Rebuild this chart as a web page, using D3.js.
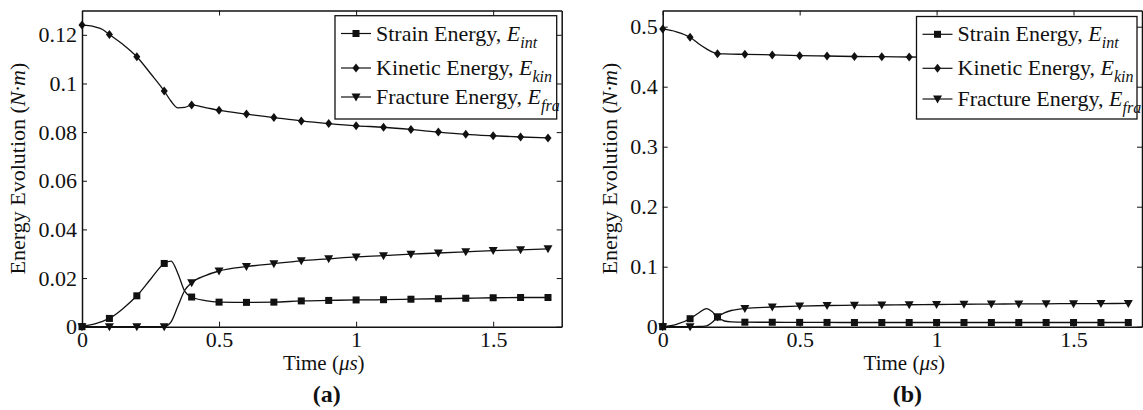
<!DOCTYPE html>
<html>
<head>
<meta charset="utf-8">
<script src="https://cdn.jsdelivr.net/npm/d3@7"></script>
<style>
  html, body { margin: 0; padding: 0; background: #fff; }
  svg { display: block; }
  text { font-family: "Liberation Serif", "Times New Roman", serif; fill: #111; }
</style>
</head>
<body>
<svg id="chart" width="1143" height="410"></svg>
<script>
// ---------- Data: panel (a) ----------
const timeA = [0, 0.025, 0.05, 0.075, 0.1, 0.15, 0.2, 0.25, 0.3, 0.325, 0.35, 0.375, 0.4, 0.45, 0.5, 0.6, 0.7, 0.8, 0.9, 1.0, 1.1, 1.2, 1.3, 1.4, 1.5, 1.6, 1.7];
const strainA   = [0, 0.0006, 0.0013, 0.0022, 0.0034, 0.0075, 0.0127, 0.0195, 0.0260, 0.0270, 0.0218, 0.0145, 0.0122, 0.0107, 0.0101, 0.0100, 0.0101, 0.0106, 0.0108, 0.0110, 0.0111, 0.0113, 0.0115, 0.0117, 0.0119, 0.0120, 0.0120];
const kineticA  = [0.1240, 0.1238, 0.1232, 0.1222, 0.1201, 0.1160, 0.1110, 0.1041, 0.0969, 0.0927, 0.0900, 0.0902, 0.0911, 0.0901, 0.0890, 0.0874, 0.0860, 0.0846, 0.0835, 0.0826, 0.0820, 0.0811, 0.0800, 0.0791, 0.0785, 0.0780, 0.0776];
const fractureA = [0, 0, 0, 0, 0, 0, 0, 0, 0, 0.0020, 0.0085, 0.0150, 0.0181, 0.0210, 0.0229, 0.0247, 0.0259, 0.0271, 0.0279, 0.0287, 0.0292, 0.0298, 0.0303, 0.0308, 0.0313, 0.0316, 0.0320];

// ---------- Data: panel (b) ----------
const timeB = [0, 0.05, 0.1, 0.13, 0.16, 0.18, 0.2, 0.225, 0.25, 0.3, 0.4, 0.5, 0.6, 0.7, 0.8, 0.9, 1.0, 1.1, 1.2, 1.3, 1.4, 1.5, 1.6, 1.7];
const strainB   = [0, 0.0040, 0.0133, 0.0225, 0.0300, 0.0255, 0.0161, 0.0095, 0.0080, 0.0075, 0.0074, 0.0072, 0.0071, 0.0070, 0.0070, 0.0070, 0.0070, 0.0070, 0.0070, 0.0070, 0.0070, 0.0070, 0.0070, 0.0070];
const kineticB  = [0.4962, 0.4915, 0.4823, 0.4720, 0.4630, 0.4580, 0.4551, 0.4546, 0.4543, 0.4540, 0.4529, 0.4517, 0.4512, 0.4503, 0.4500, 0.4495, 0.4490, 0.4486, 0.4483, 0.4480, 0.4477, 0.4475, 0.4473, 0.4470];
const fractureB = [0, 0, 0, 0.0003, 0.0015, 0.0070, 0.0161, 0.0230, 0.0270, 0.0305, 0.0328, 0.0343, 0.0353, 0.0358, 0.0362, 0.0366, 0.0370, 0.0374, 0.0377, 0.0380, 0.0382, 0.0384, 0.0386, 0.0388];

// ---------- Axis ticks ----------
const xTicks = [0, 0.5, 1, 1.5];
const xTickLabels = ["0", "0.5", "1", "1.5"];
const yTicksA = [0, 0.02, 0.04, 0.06, 0.08, 0.1, 0.12];
const yTickLabelsA = ["0", "0.02", "0.04", "0.06", "0.08", "0.1", "0.12"];
const yTicksB = [0, 0.1, 0.2, 0.3, 0.4, 0.5];
const yTickLabelsB = ["0", "0.1", "0.2", "0.3", "0.4", "0.5"];

const seriesNames = ["Strain Energy, ", "Kinetic Energy, ", "Fracture Energy, "];
const seriesSubs = ["int", "kin", "fra"];
const markerTypes = ["square", "diamond", "triangle"];

const svg = d3.select("#chart");

function drawMarker(g, type, x, y) {
  if (type === "square") {
    g.append("rect").attr("x", x - 3.5).attr("y", y - 3.5).attr("width", 7).attr("height", 7).attr("fill", "#111");
  } else if (type === "diamond") {
    g.append("path").attr("d", `M${x},${y-4.5}L${x+3.5},${y}L${x},${y+4.5}L${x-3.5},${y}Z`).attr("fill", "#111");
  } else {
    g.append("path").attr("d", `M${x-4.5},${y-3.5}L${x+4.5},${y-3.5}L${x},${y+4.5}Z`).attr("fill", "#111");
  }
}

function panel(cfg) {
  const { x0, x1, yTop, yBot, yMax, time, series, yTicks, yLabels, letter, legend } = cfg;
  const x = d3.scaleLinear().domain([0, 1.75]).range([x0, x1]);
  const y = d3.scaleLinear().domain([0, yMax]).range([yBot, yTop]);
  const g = svg.append("g");

  // curves
  const line = d3.line().x(d => x(d[0])).y(d => y(d[1])).curve(d3.curveMonotoneX);
  series.forEach((vals, si) => {
    const pts = time.map((t, i) => [t, vals[i]]);
    g.append("path").attr("d", line(pts)).attr("fill", "none").attr("stroke", "#111").attr("stroke-width", 1.3);
    pts.forEach(p => {
      if (Math.abs(p[0] * 10 - Math.round(p[0] * 10)) < 1e-6) drawMarker(g, markerTypes[si], x(p[0]), y(p[1]));
    });
  });

  // axes
  const ax = g.append("g").attr("class", "axes");
  const bottom = d3.axisBottom(x).tickValues(xTicks).tickFormat((d, i) => xTickLabels[i]).tickSize(-5).tickPadding(5).tickSizeOuter(0);
  const top = d3.axisTop(x).tickValues(xTicks).tickFormat("").tickSize(-5).tickSizeOuter(0);
  const left = d3.axisLeft(y).tickValues(yTicks).tickFormat((d, i) => yLabels[i]).tickSize(-5).tickPadding(5).tickSizeOuter(0);
  const right = d3.axisRight(y).tickValues(yTicks).tickFormat("").tickSize(-5).tickSizeOuter(0);
  const gb = ax.append("g").attr("transform", `translate(0,${yBot})`).call(bottom);
  const gt = ax.append("g").attr("transform", `translate(0,${yTop})`).call(top);
  const gl = ax.append("g").attr("transform", `translate(${x0},0)`).call(left);
  const gr = ax.append("g").attr("transform", `translate(${x1},0)`).call(right);
  [gb, gt, gl, gr].forEach(a => {
    a.selectAll("path").attr("stroke", "#111").attr("stroke-width", 1.5);
    a.selectAll("line").attr("stroke", "#111").attr("stroke-width", 1);
    a.selectAll("text").style("font-family", '"Liberation Serif", serif').style("font-size", "22px").attr("fill", "#111");
  });

  // legend
  const lg = g.append("g");
  lg.append("rect").attr("x", legend.x).attr("y", legend.y).attr("width", legend.w).attr("height", legend.h)
    .attr("fill", "#fff").attr("stroke", "#111").attr("stroke-width", 1.3);
  legend.rows.forEach((ry, i) => {
    lg.append("line").attr("x1", legend.x + 6).attr("x2", legend.x + 36).attr("y1", ry).attr("y2", ry).attr("stroke", "#111").attr("stroke-width", 1.2);
    drawMarker(lg, markerTypes[i], legend.x + 21, ry);
    const t = lg.append("text").attr("x", legend.x + 41).attr("y", ry + 7).style("font-size", "22px");
    t.append("tspan").text(seriesNames[i]);
    t.append("tspan").style("font-style", "italic").text("E");
    t.append("tspan").style("font-style", "italic").style("font-size", "16px").attr("dy", 7).text(seriesSubs[i]);
  });

  // labels
  const cx = (x0 + x1) / 2;
  const xl = g.append("text").attr("x", cx + 2).attr("y", yBot + 43).attr("text-anchor", "middle").style("font-size", "21px");
  xl.append("tspan").text("Time (");
  xl.append("tspan").style("font-style", "italic").text("\u03bcs");
  xl.append("tspan").text(")");

  const cy = (yTop + yBot) / 2;
  const yl = g.append("text").attr("transform", `translate(${cfg.ylabelX},${cy}) rotate(-90)`).attr("text-anchor", "middle").style("font-size", "22px");
  yl.append("tspan").text("Energy Evolution (");
  yl.append("tspan").style("font-style", "italic").text("N\u00b7m");
  yl.append("tspan").text(")");

  g.append("text").attr("x", cx + 5).attr("y", 402).attr("text-anchor", "middle").style("font-size", "24px").style("font-weight", "bold").text(letter);
}

panel({
  x0: 82, x1: 561.7, yTop: 10.5, yBot: 326.7, yMax: 0.13,
  time: timeA, series: [strainA, kineticA, fractureA],
  yTicks: yTicksA, yLabels: yTickLabelsA, letter: "(a)", ylabelX: 25,
  legend: { x: 335, y: 15.7, w: 221.7, h: 103.3, rows: [33.5, 68, 97] }
});
panel({
  x0: 662.7, x1: 1142, yTop: 10.5, yBot: 326.7, yMax: 0.527,
  time: timeB, series: [strainB, kineticB, fractureB],
  yTicks: yTicksB, yLabels: yTickLabelsB, letter: "(b)", ylabelX: 617,
  legend: { x: 916.5, y: 16.5, w: 220.5, h: 102.5, rows: [34.3, 68.3, 99] }
});
</script>
</body>
</html>
